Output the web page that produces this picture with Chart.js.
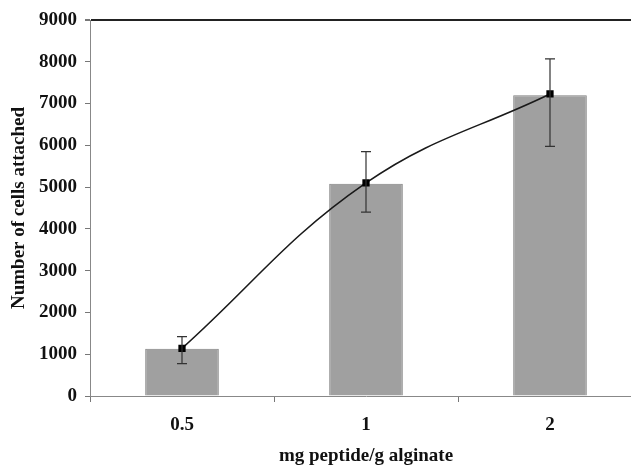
<!DOCTYPE html>
<html>
<head>
<meta charset="utf-8">
<script src="https://cdn.jsdelivr.net/npm/chart.js@4"></script>
<style>
    html, body { margin: 0; padding: 0; background: #fff; overflow: hidden; }
    #wrap { width: 631px; height: 467px; overflow: hidden; }
    #box { width: 650px; height: 467px; }
</style>
</head>
<body>
<div id="wrap"><div id="box"><canvas id="chart"></canvas></div></div>
<script>
// Data
const doses = ['0.5', '1', '2'];
const cellsBar = [1130, 5080, 7200];
const cellsMean = [1140, 5100, 7230];
const errUp = [1420, 5850, 8070];
const errDown = [775, 4400, 5975];
const yTicks = [0, 1000, 2000, 3000, 4000, 5000, 6000, 7000, 8000, 9000];

const serif = "'Liberation Serif', 'DejaVu Serif', serif";

// Error bars drawn off the line points
const errorBars = {
    id: 'errorBars',
    afterDatasetsDraw(chart) {
        const meta = chart.getDatasetMeta(1);
        const y = chart.scales.y;
        const ctx = chart.ctx;
        ctx.save();
        ctx.strokeStyle = '#333';
        ctx.lineWidth = 1.2;
        meta.data.forEach((pt, i) => {
            const top = y.getPixelForValue(errUp[i]);
            const bot = y.getPixelForValue(errDown[i]);
            ctx.beginPath();
            ctx.moveTo(pt.x, top);
            ctx.lineTo(pt.x, bot);
            ctx.moveTo(pt.x - 5, top);
            ctx.lineTo(pt.x + 5, top);
            ctx.moveTo(pt.x - 5, bot);
            ctx.lineTo(pt.x + 5, bot);
            ctx.stroke();
        });
        ctx.restore();
    }
};

new Chart(document.getElementById('chart'), {
    type: 'bar',
    data: {
        labels: doses,
        datasets: [{
            type: 'bar',
            data: cellsBar,
            backgroundColor: '#a0a0a0',
            borderColor: '#808080',
            borderWidth: 1,
            barPercentage: 0.4,
            categoryPercentage: 1,
            order: 2
        }, {
            type: 'line',
            data: cellsMean,
            borderColor: '#1a1a1a',
            borderWidth: 1.6,
            tension: 0.4,
            pointStyle: 'rect',
            pointRadius: 4,
            pointBackgroundColor: '#000',
            pointBorderColor: '#000',
            order: 1
        }]
    },
    options: {
        responsive: true,
        maintainAspectRatio: false,
        animation: false,
        layout: { padding: { top: 20, right: 8, left: 0, bottom: 0 } },
        plugins: {
            legend: { display: false },
            tooltip: { enabled: false }
        },
        scales: {
            x: {
                afterFit(scale) { scale.height = 71; },
                grid: {
                    offset: true,
                    drawOnChartArea: false,
                    tickLength: 6,
                    tickColor: '#777'
                },
                border: { color: '#888', width: 1 },
                ticks: {
                    color: '#111',
                    padding: 12,
                    font: { family: serif, size: 19, weight: 'bold' }
                },
                title: {
                    display: true,
                    text: 'mg peptide/g alginate',
                    color: '#111',
                    padding: { top: 0, bottom: 0 },
                    font: { family: serif, size: 19, weight: 'bold' }
                }
            },
            y: {
                min: 0,
                max: 9000,
                afterFit(scale) { scale.width = 90; },
                afterBuildTicks(scale) { scale.ticks = yTicks.map(v => ({ value: v })); },
                grid: {
                    drawOnChartArea: true,
                    color: ctx => ctx.tick && ctx.tick.value === 9000 ? '#222' : 'rgba(0,0,0,0)',
                    lineWidth: ctx => ctx.tick && ctx.tick.value === 9000 ? 2 : 1,
                    tickLength: 5,
                    tickColor: '#777'
                },
                border: { color: '#888', width: 1 },
                ticks: {
                    color: '#111',
                    padding: 8,
                    callback: v => String(v),
                    font: { family: serif, size: 19, weight: 'bold' }
                },
                title: {
                    display: true,
                    text: 'Number of cells attached',
                    color: '#111',
                    padding: { top: 8, bottom: 0 },
                    font: { family: serif, size: 19, weight: 'bold' }
                }
            }
        }
    },
    plugins: [errorBars]
});
</script>
</body>
</html>
